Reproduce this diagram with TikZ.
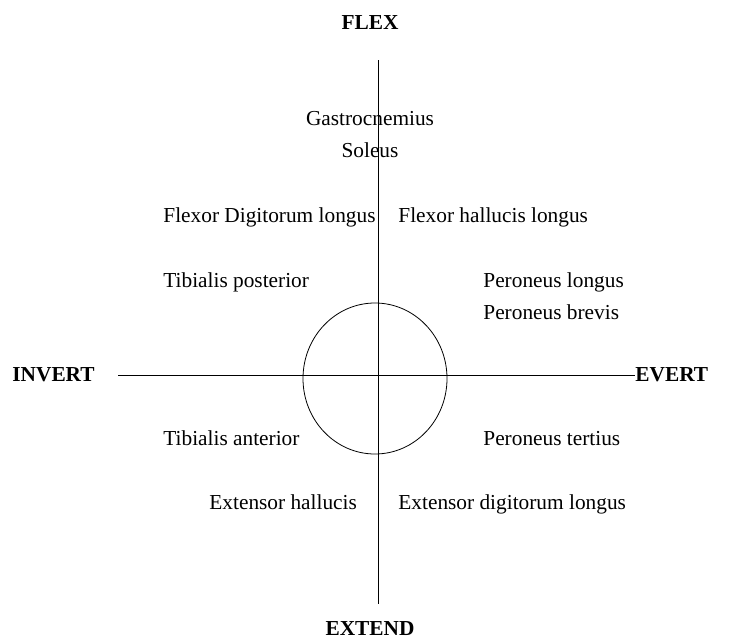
\documentclass[tikz,border=0pt]{standalone}
\usepackage{fontspec}
\setmainfont{Liberation Serif}
\begin{document}
\begin{tikzpicture}[x=0.75pt,y=-0.75pt,line width=0.6pt,
        axislabel/.style={font=\fontsize{16}{19}\selectfont\bfseries, inner sep=0pt},
        muscle/.style={font=\fontsize{16}{19}\selectfont, anchor=base west, inner sep=0pt}]
    \useasboundingbox (0,0) rectangle (731,639);
    % direction labels
    \node[axislabel, anchor=base] at (370,29) (flex) {FLEX};
    \node[axislabel, anchor=base] at (370,635) (extend) {EXTEND};
    \node[axislabel, anchor=base west] at (12,381) (invert) {INVERT};
    \node[axislabel, anchor=base west] at (635,381) (evert) {EVERT};
    \coordinate (top) at (378,60);
    \coordinate (bottom) at (378,604);
    \coordinate (left) at (118,375);
    \coordinate (right) at (evert.west |- left);
    % axes and circle
    \draw (top) -- (bottom);
    \draw (left) -- (right);
    \draw (375,378.5) ellipse [x radius=72, y radius=75.5];
    % muscles
    \node[muscle, anchor=base] at (370,125) (gastro) {Gastrocnemius};
    \node[muscle, anchor=base] at (370,157) (soleus) {Soleus};
    \node[muscle] at (163,222) (fdl) {Flexor Digitorum longus};
    \node[muscle] at (398,222) (fhl) {Flexor hallucis longus};
    \node[muscle] at (163,287) (tibpost) {Tibialis posterior};
    \node[muscle] at (483,287) (perlong) {Peroneus longus};
    \node[muscle] at (483,319) (perbrev) {Peroneus brevis};
    \node[muscle] at (163,445) (tibant) {Tibialis anterior};
    \node[muscle] at (483,445) (perter) {Peroneus tertius};
    \node[muscle] at (209,509) (exthal) {Extensor hallucis};
    \node[muscle] at (398,509) (extdig) {Extensor digitorum longus};
\end{tikzpicture}
\end{document}
